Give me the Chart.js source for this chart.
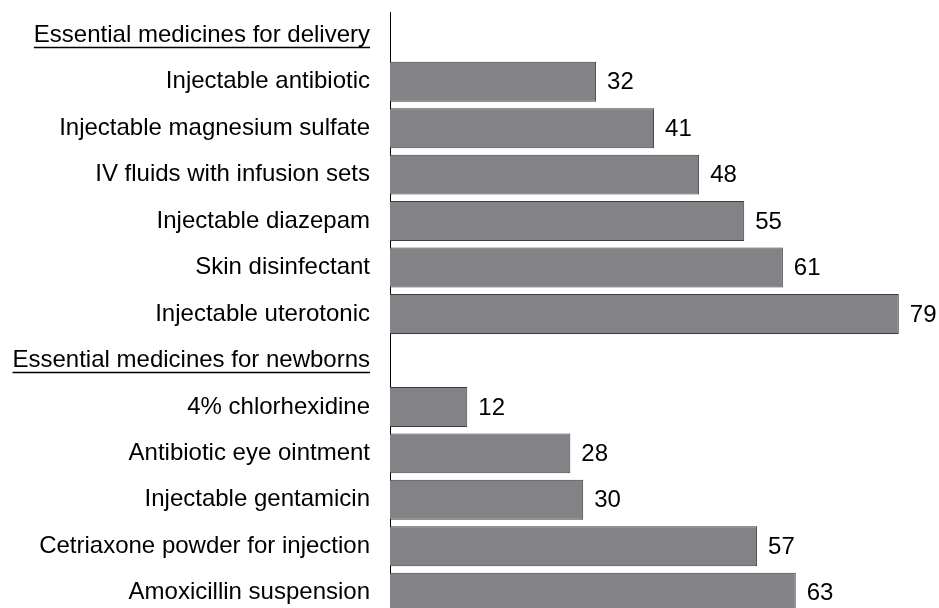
<!DOCTYPE html>
<html>
<head>
<meta charset="utf-8">
<script src="https://cdn.jsdelivr.net/npm/chart.js@4"></script>
<style>
  html, body { margin: 0; padding: 0; background: #fff; overflow: hidden; }
  #wrap { width: 939px; height: 608px; overflow: hidden; }
</style>
</head>
<body>
<div id="wrap"><canvas id="medChart" width="939" height="620"></canvas></div>
<script>
const labels = [
  "Essential medicines for delivery",
  "Injectable antibiotic",
  "Injectable magnesium sulfate",
  "IV fluids with infusion sets",
  "Injectable diazepam",
  "Skin disinfectant",
  "Injectable uterotonic",
  "Essential medicines for newborns",
  "4% chlorhexidine",
  "Antibiotic eye ointment",
  "Injectable gentamicin",
  "Cetriaxone powder for injection",
  "Amoxicillin suspension"
];
const values = [null, 32, 41, 48, 55, 61, 79, null, 12, 28, 30, 57, 63];
const headers = ["Essential medicines for delivery", "Essential medicines for newborns"];

const FONT = "'Liberation Sans', Arial, sans-serif";

// value labels next to bar ends
const valueLabels = {
  id: "valueLabels",
  afterDatasetsDraw(chart) {
    const ctx = chart.ctx;
    const meta = chart.getDatasetMeta(0);
    ctx.save();
    ctx.font = "24px " + FONT;
    ctx.fillStyle = "#000";
    ctx.textAlign = "left";
    ctx.textBaseline = "middle";
    meta.data.forEach((bar, i) => {
      if (values[i] == null) return;
      ctx.fillText(String(values[i]), bar.x + 11, bar.y + 1);
    });
    ctx.restore();
  }
};

// underline the group headers
const underlineHeaders = {
  id: "underlineHeaders",
  afterDraw(chart) {
    const ctx = chart.ctx;
    const y = chart.scales.y;
    ctx.save();
    ctx.font = "24px " + FONT;
    ctx.strokeStyle = "#000";
    ctx.lineWidth = 1.5;
    labels.forEach((lab, i) => {
      if (!headers.includes(lab)) return;
      const right = y.right - 20;
      const w = ctx.measureText(lab).width;
      const py = Math.round(y.getPixelForTick(i) + 12) + 0.5;
      ctx.beginPath();
      ctx.moveTo(right - w, py);
      ctx.lineTo(right, py);
      ctx.stroke();
    });
    ctx.restore();
  }
};

new Chart(document.getElementById("medChart").getContext("2d"), {
  type: "bar",
  data: {
    labels: labels,
    datasets: [{
      data: values,
      backgroundColor: "#838387",
      borderColor: "#3c3c3c",
      borderWidth: 1,
      borderSkipped: "left",
      barPercentage: 0.86,
      categoryPercentage: 1
    }]
  },
  options: {
    indexAxis: "y",
    responsive: false,
    animation: false,
    devicePixelRatio: 1,
    layout: { padding: { top: 12, bottom: 4, left: 0, right: 8 } },
    plugins: { legend: { display: false }, tooltip: { enabled: false } },
    scales: {
      x: { display: false, min: 0, max: 84 },
      y: {
        afterFit: s => { s.width = 390; s.paddingTop = 0; s.paddingBottom = 0; },
        grid: { display: false, drawTicks: false },
        border: { display: true, color: "#000", width: 1 },
        ticks: { color: "#000", padding: 20, font: { family: FONT, size: 24 } }
      }
    }
  },
  plugins: [valueLabels, underlineHeaders]
});
</script>
</body>
</html>
